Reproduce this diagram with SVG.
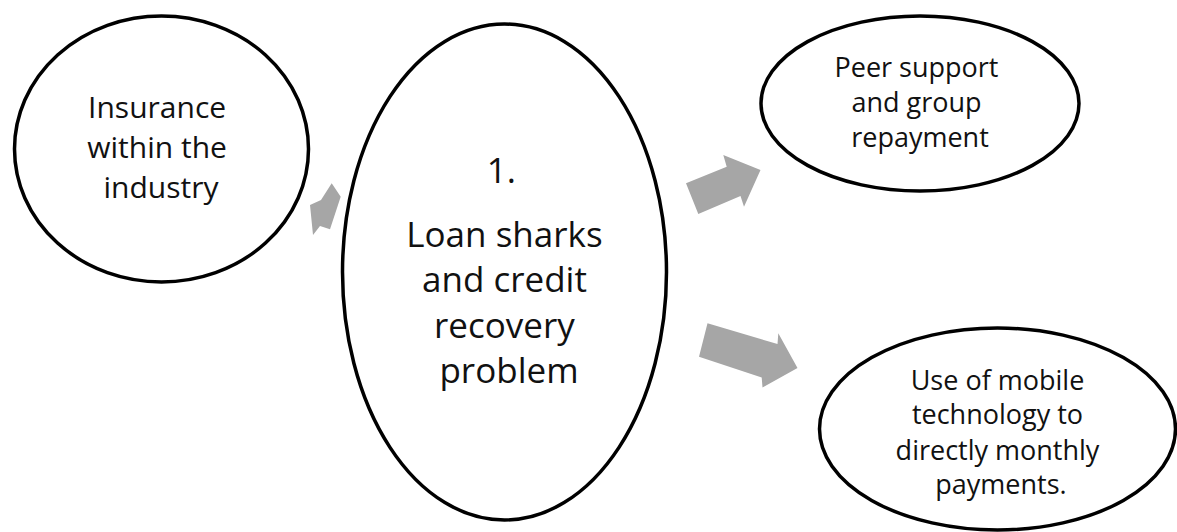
<svg xmlns="http://www.w3.org/2000/svg" width="1177" height="532" viewBox="0 0 1177 532">
  <style>
    .node { fill: #ffffff; stroke: #000000; stroke-width: 3.5; }
    .arrow { fill: #a6a6a6; stroke: none; }
    text { font-family: "Open Sans", "Noto Sans", "Liberation Sans", sans-serif; fill: #111111; text-anchor: middle; }
    .lg { font-size: 35px; }
    .md { font-size: 30px; }
    .sm { font-size: 27px; }
  </style>
  <rect width="1177" height="532" fill="#ffffff"/>

  <!-- block arrows radiating from the central node -->
  <g id="connectors">
    <polygon class="arrow" points="331.7,183.3 340.7,196.7 330,229.3 320,226 313,235 310,205 321,200"/>
    <polygon class="arrow" points="686,183.3 726.7,166.7 723.3,155 760.5,170 744,206.7 740.5,196 698.3,214"/>
    <polygon class="arrow" points="707.5,323.3 777.5,344 778.3,333.3 797.5,368 762.5,387.5 761.7,377.5 699,356.7"/>
  </g>

  <g id="node-insurance">
    <ellipse class="node" cx="161.5" cy="149" rx="147" ry="133"/>
    <text class="md">
      <tspan x="161" y="118">Insurance</tspan>
      <tspan x="161" y="158">within the</tspan>
      <tspan x="161" y="198">industry</tspan>
    </text>
  </g>

  <g id="node-loan-sharks">
    <ellipse class="node" cx="504.5" cy="272" rx="162" ry="248"/>
    <text class="lg">
      <tspan x="506" y="183">1.</tspan>
      <tspan x="509" y="247">Loan sharks</tspan>
      <tspan x="509" y="292">and credit</tspan>
      <tspan x="509" y="338">recovery</tspan>
      <tspan x="509" y="383">problem</tspan>
    </text>
  </g>

  <g id="node-peer-support">
    <ellipse class="node" cx="920" cy="103.5" rx="159" ry="87.5"/>
    <text class="sm">
      <tspan x="920" y="77">Peer support</tspan>
      <tspan x="920" y="112">and group</tspan>
      <tspan x="920" y="147">repayment</tspan>
    </text>
  </g>

  <g id="node-mobile">
    <ellipse class="node" cx="997.5" cy="429" rx="178" ry="101"/>
    <text class="sm">
      <tspan x="1001" y="390">Use of mobile</tspan>
      <tspan x="1001" y="424">technology to</tspan>
      <tspan x="1001" y="460">directly monthly</tspan>
      <tspan x="1001" y="494">payments.</tspan>
    </text>
  </g>
</svg>
